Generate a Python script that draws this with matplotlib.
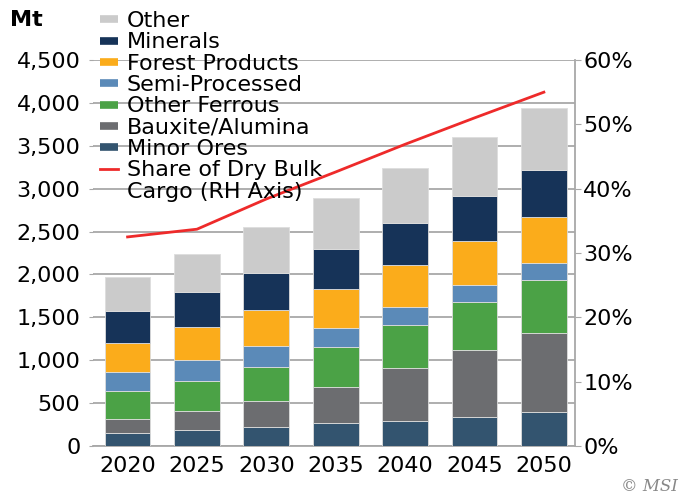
import numpy as np
import matplotlib.pyplot as plt
from matplotlib.lines import Line2D

# Данные (Mt), снизу вверх
years = ['2020', '2025', '2030', '2035', '2040', '2045', '2050']
minor_ores = [155, 187, 225, 264, 295, 342, 393]
bauxite = [163, 217, 296, 427, 611, 781, 921]
other_ferrous = [327, 357, 404, 459, 508, 559, 618]
semi_processed = [218, 242, 237, 226, 210, 198, 205]
forest_products = [341, 388, 423, 451, 483, 513, 536]
minerals = [366, 401, 435, 470, 493, 521, 548]
other = [404, 446, 537, 591, 644, 684, 723]
share_dry_bulk = [32.5, 33.7, 38.4, 42.6, 46.9, 51.0, 55.0]

series = [
    ('Minor Ores', minor_ores, '#33546f'),
    ('Bauxite/Alumina', bauxite, '#6c6d70'),
    ('Other Ferrous', other_ferrous, '#4ba246'),
    ('Semi-Processed', semi_processed, '#5b8ab8'),
    ('Forest Products', forest_products, '#fbac1b'),
    ('Minerals', minerals, '#163358'),
    ('Other', other, '#cbcbcb'),
]

plt.rcParams['font.family'] = 'DejaVu Sans'
fig = plt.figure(figsize=(6.83, 4.98), dpi=100)
ax = fig.add_axes([0.136, 0.1044, 0.706, 0.7751])

x = np.arange(len(years))
bottom = np.zeros(len(years))
for name, vals, col in series:
    ax.bar(x, vals, width=0.66, bottom=bottom, color=col,
           edgecolor='#dddddd', linewidth=0.6, zorder=3)
    bottom += np.array(vals)

ax.set_ylim(0, 4500)
ax.set_yticks(np.arange(0, 4501, 500))
ax.set_yticklabels([f'{v:,}' for v in range(0, 4501, 500)])
ax.set_xlim(-0.5, 6.45)
ax.set_xticks(x)
ax.set_xticklabels(years)
ax.yaxis.grid(True, color='#a8a8a8', linewidth=1.3, zorder=0)
ax.set_axisbelow(True)
for s in ['top', 'left', 'right']:
    ax.spines[s].set_visible(False)
ax.spines['bottom'].set_color('#a8a8a8')
ax.spines['bottom'].set_linewidth(1.3)
ax.tick_params(axis='y', length=3, color='#a8a8a8', labelsize=16, pad=6)
ax.tick_params(axis='x', length=0, labelsize=16, pad=7)

ax2 = ax.twinx()
ax2.plot(x, share_dry_bulk, color='#ee2a2a', linewidth=2, zorder=5)
ax2.set_ylim(0, 60)
ax2.set_yticks(np.arange(0, 61, 10))
ax2.set_yticklabels([f'{v}%' for v in range(0, 61, 10)])
for s in ['top', 'left', 'bottom']:
    ax2.spines[s].set_visible(False)
ax2.spines['right'].set_color('#a8a8a8')
ax2.spines['right'].set_linewidth(1.3)
ax2.tick_params(axis='y', length=4, color='#a8a8a8', labelsize=16, pad=2)

# Легенда
handles = []
labels = []
for name, vals, col in reversed(series):
    handles.append(Line2D([], [], color=col, linewidth=5.5, solid_capstyle='butt'))
    labels.append(name)
handles.append(Line2D([], [], color='#ee2a2a', linewidth=2))
labels.append('Share of Dry Bulk')
handles.append(Line2D([], [], color='none'))
labels.append('Cargo (RH Axis)')
fig.legend(handles, labels, loc='upper left', bbox_to_anchor=(100 / 683, 1 - 11 / 498),
           frameon=False, fontsize=16, labelspacing=0.06, handlelength=0.81,
           handletextpad=0.4, borderpad=0, borderaxespad=0)

fig.text(10 / 683, 1 - 20 / 498, 'Mt', fontsize=16, fontweight='bold', va='center')
fig.text(678 / 683, 1 - 486 / 498, '© MSI', fontsize=12, color='#888888',
         style='italic', family='DejaVu Serif', ha='right', va='center')

fig.savefig('out.png', dpi=100)
